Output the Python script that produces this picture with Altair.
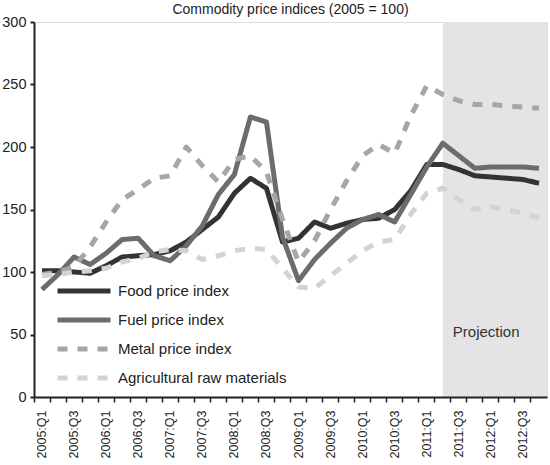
import altair as alt
import pandas as pd

# Quarterly periods on the horizontal axis
quarters = [
    "2005:Q1", "2005:Q2", "2005:Q3", "2005:Q4",
    "2006:Q1", "2006:Q2", "2006:Q3", "2006:Q4",
    "2007:Q1", "2007:Q2", "2007:Q3", "2007:Q4",
    "2008:Q1", "2008:Q2", "2008:Q3", "2008:Q4",
    "2009:Q1", "2009:Q2", "2009:Q3", "2009:Q4",
    "2010:Q1", "2010:Q2", "2010:Q3", "2010:Q4",
    "2011:Q1", "2011:Q2", "2011:Q3", "2011:Q4",
    "2012:Q1", "2012:Q2", "2012:Q3", "2012:Q4",
]
labelled = quarters[0::2]

series_names = [
    "Food price index",
    "Fuel price index",
    "Metal price index",
    "Agricultural raw materials",
]

food = [101, 101, 100, 99, 105, 112, 113, 114, 117, 124, 134, 144,
        163, 175, 167, 124, 127, 140, 135, 139, 142, 143, 150, 165,
        186, 186, 182, 177, 176, 175, 174, 171]
fuel = [86, 98, 112, 106, 115, 126, 127, 113, 109, 121, 137, 162,
        178, 224, 220, 128, 93, 110, 123, 135, 142, 146, 140, 162,
        184, 203, 193, 183, 184, 184, 184, 183]
metal = [98, 100, 104, 120, 140, 158, 166, 175, 177, 200, 185, 172,
         190, 193, 180, 142, 108, 125, 150, 173, 193, 202, 195, 225,
         249, 242, 237, 234, 234, 233, 232, 231]
agri = [97, 98, 100, 101, 103, 108, 111, 116, 118, 117, 110, 113,
        117, 119, 118, 103, 88, 87, 97, 107, 117, 124, 126, 146,
        163, 167, 158, 150, 152, 150, 147, 143]

projection_start = "2011:Q2"

colors = ["#333333", "#6c6c6c", "#a6a6a6", "#d3d3d3"]
dashes = [[1, 0], [1, 0], [10, 10], [10, 10]]

rows = []
for name, values in zip(series_names, [food, fuel, metal, agri]):
    for q, v in zip(quarters, values):
        rows.append({"quarter": q, "series": name, "value": v})
df = pd.DataFrame(rows)

FONT = "Liberation Sans"
W, H = 513, 375

x_enc = alt.X(
    "quarter:N",
    sort=quarters,
    scale=alt.Scale(type="band", domain=quarters, paddingInner=0, paddingOuter=0),
    axis=alt.Axis(
        title=None,
        bandPosition=0,
        labelAngle=270,
        labelFont=FONT,
        labelFontSize=12.5,
        labelColor="#222222",
        labelPadding=8,
        labelOverlap=False,
        labelExpr="indexof(" + str(labelled).replace(" ", "") + ", datum.value) >= 0 ? datum.label : ''",
        tickSize=5,
        tickWidth=1.5,
        tickColor="#222222",
        domainColor="#222222",
        domainWidth=2,
        grid=False,
    ),
)

y_enc = alt.Y(
    "value:Q",
    scale=alt.Scale(domain=[0, 300], nice=False),
    axis=alt.Axis(
        title=None,
        values=[0, 50, 100, 150, 200, 250, 300],
        labelFont=FONT,
        labelFontSize=14.5,
        labelColor="#222222",
        labelPadding=4,
        tickSize=4,
        tickWidth=2,
        tickColor="#222222",
        domainColor="#222222",
        domainWidth=2,
        grid=False,
    ),
)

legend = alt.Legend(
    title=None,
    orient="none",
    legendX=21,
    legendY=261,
    padding=0,
    symbolType="stroke",
    symbolSize=2809,
    symbolStrokeWidth=5,
    clipHeight=16,
    rowPadding=13,
    labelFont=FONT,
    labelFontSize=15,
    labelColor="#222222",
    labelOffset=5,
    labelLimit=400,
)

shade = alt.Chart(pd.DataFrame({"start": [projection_start]})).mark_rect(
    color="#e4e4e6"
).encode(
    x=alt.X("start:N", sort=quarters, scale=alt.Scale(type="band", domain=quarters,
                                                      paddingInner=0, paddingOuter=0)),
    x2=alt.value(W),
    y=alt.value(0),
    y2=alt.value(H),
)

lines = alt.Chart(df).mark_line(strokeWidth=5, strokeJoin="round").encode(
    x=x_enc,
    y=y_enc,
    color=alt.Color("series:N", scale=alt.Scale(domain=series_names, range=colors),
                    legend=legend),
    strokeDash=alt.StrokeDash("series:N", scale=alt.Scale(domain=series_names, range=dashes),
                              legend=legend),
    order=alt.Order("series:N"),
)

note = alt.Chart(pd.DataFrame({"quarter": [projection_start], "value": [52],
                               "text": ["Projection"]})).mark_text(
    align="left", baseline="middle", dx=10, font=FONT, fontSize=15, color="#333333"
).encode(
    x=alt.X("quarter:N", sort=quarters),
    y=alt.Y("value:Q"),
    text="text:N",
)

chart = alt.layer(shade, lines, note).properties(
    width=W,
    height=H,
    autosize=alt.AutoSizeParams(type="none"),
    padding={"left": 34, "top": 22, "right": 3, "bottom": 68},
    title=alt.TitleParams(
        "Commodity price indices (2005 = 100)",
        font=FONT,
        fontSize=14,
        fontWeight="normal",
        color="#222222",
        anchor="middle",
        offset=-3,
    ),
).configure_view(stroke=None).configure(background="white")

chart.save("out.html", embed_options={"renderer": "svg", "actions": False})
